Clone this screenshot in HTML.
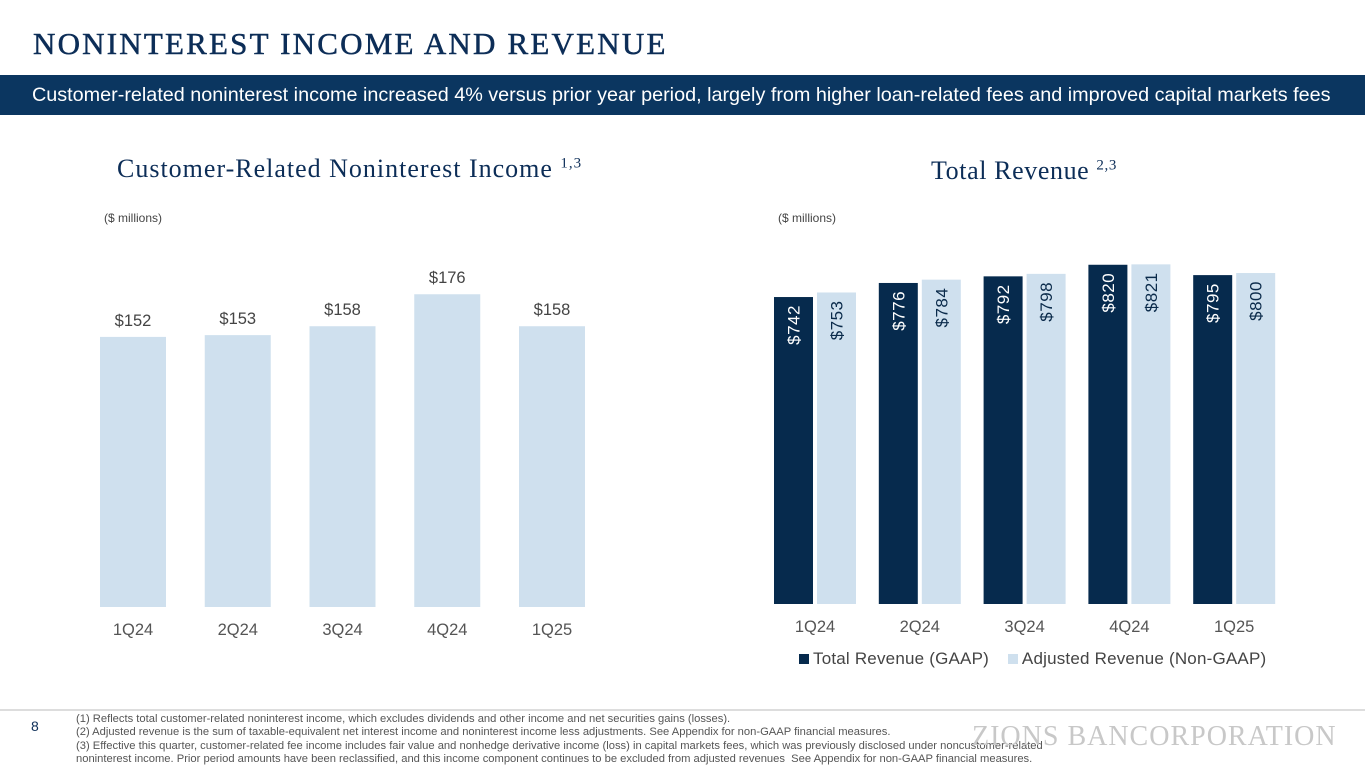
<!DOCTYPE html>
<html><head><meta charset="utf-8"><style>
body{margin:0;width:1365px;height:768px;position:relative;background:#fff;font-family:"Liberation Sans",sans-serif;overflow:hidden}
.abs{position:absolute}
</style></head><body>
<div class="abs" style="left:33px;top:26px;font-family:'Liberation Serif',serif;font-size:31px;color:#0c2d57;letter-spacing:2.2px;-webkit-text-stroke:0.5px #0c2d57">NONINTEREST INCOME AND REVENUE</div>
<div class="abs" style="left:0;top:75px;width:1365px;height:40px;background:#0b3660;color:#fff;font-size:19.8px;line-height:40px;padding-left:32px;box-sizing:border-box;white-space:nowrap">Customer-related noninterest income increased 4% versus prior year period, largely from higher loan-related fees and improved capital markets fees</div>
<div class="abs" style="left:117px;top:154px;font-family:'Liberation Serif',serif;font-size:26px;letter-spacing:1px;color:#0c2d57;white-space:nowrap">Customer-Related Noninterest Income <sup style="font-size:15px">1,3</sup></div>
<div class="abs" style="left:931px;top:156px;font-family:'Liberation Serif',serif;font-size:26px;letter-spacing:0.6px;color:#0c2d57;white-space:nowrap">Total Revenue <sup style="font-size:15px">2,3</sup></div>
<div class="abs" style="left:104px;top:211px;font-size:12px;color:#444">($ millions)</div>
<div class="abs" style="left:778px;top:211px;font-size:12px;color:#444">($ millions)</div>
<svg class="abs" style="left:0;top:0" width="1365" height="700" id="charts"></svg>
<div class="abs" style="left:799px;top:649px;font-size:17px;color:#444;white-space:nowrap;letter-spacing:0.2px">
<span><span style="display:inline-block;width:10px;height:10px;background:#062a4d;margin-right:4px"></span>Total Revenue (GAAP)</span>
<span style="margin-left:14px"><span style="display:inline-block;width:10px;height:10px;background:#cfe0ee;margin-right:4px"></span>Adjusted Revenue (Non-GAAP)</span></div>
<div class="abs" style="left:0;top:709px;width:1365px;height:2px;background:#ddd"></div>
<div class="abs" style="left:31px;top:718px;font-size:14px;color:#0c2d57">8</div>
<div class="abs" style="left:76px;top:713px;font-size:11.2px;line-height:13.3px;color:#555;white-space:nowrap">(1) Reflects total customer-related noninterest income, which excludes dividends and other income and net securities gains (losses).<br>(2) Adjusted revenue is the sum of taxable-equivalent net interest income and noninterest income less adjustments. See Appendix for non-GAAP financial measures.<br>(3) Effective this quarter, customer-related fee income includes fair value and nonhedge derivative income (loss) in capital markets fees, which was previously disclosed under noncustomer-related<br>noninterest income. Prior period amounts have been reclassified, and this income component continues to be excluded from adjusted revenues&nbsp; See Appendix for non-GAAP financial measures.</div>
<div class="abs" style="left:972px;top:721px;font-family:'Liberation Serif',serif;font-size:28px;color:#c8c8c8;letter-spacing:1px;white-space:nowrap">ZIONS BANCORPORATION</div>
<script>
const quarters=["1Q24","2Q24","3Q24","4Q24","1Q25"];
const customerIncome=[152,153,158,176,158];
const totalRevenue=[742,776,792,820,795];
const adjustedRevenue=[753,784,798,821,800];
const svg=document.getElementById('charts');
const NS="http://www.w3.org/2000/svg";
function mk(t,a,txt){const e=document.createElementNS(NS,t);for(const k in a)e.setAttribute(k,a[k]);if(txt!==undefined)e.textContent=txt;svg.appendChild(e);return e;}
const lBase=607,lK=1.777;
const lx=i=>100+i*104.75;
customerIncome.forEach((v,i)=>{
 const h=v*lK;
 const r=mk('rect',{x:lx(i),y:lBase-h,width:66,height:h,fill:'#cfe0ee'});
 
 
 const t=mk('text',{x:lx(i)+33,y:lBase-h-11,'text-anchor':'middle','font-size':16.5,fill:'#444'},'$'+v);
 
 
 const q=mk('text',{x:lx(i)+33,y:635,'text-anchor':'middle','font-size':16.5,fill:'#555'},quarters[i]);
 
 
});
const rBase=604,rK=0.4137;
const rx=i=>774+i*104.8;
quarters.forEach((qq,i)=>{
 [[totalRevenue[i],'#062a4d','#fff',0,'total-revenue-bar'],[adjustedRevenue[i],'#cfe0ee','#0a2a4a',43,'adjusted-revenue-bar']].forEach(([v,fill,tc,off,nm])=>{
  const h=v*rK,x=rx(i)+off;
  const r=mk('rect',{x:x,y:rBase-h,width:39,height:h,fill:fill});
  
  
  const cx=x+19.5+6,cy=rBase-h+8;
  const t=mk('text',{x:cx,y:cy,'text-anchor':'end','font-size':17,'letter-spacing':0.5,fill:tc,transform:`rotate(-90 ${cx} ${cy})`},'$'+v);
  
  
 });
 const q=mk('text',{x:rx(i)+41,y:632,'text-anchor':'middle','font-size':16.5,fill:'#555'},qq);
 
 
});
</script>
</body></html>
